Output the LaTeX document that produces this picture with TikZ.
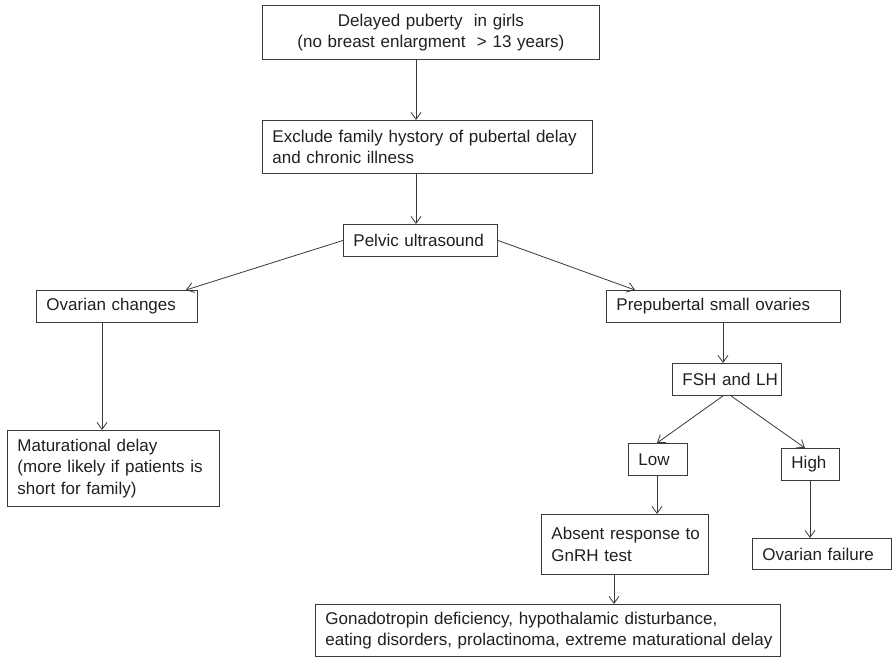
\documentclass[tikz,border=0pt]{standalone}
\usepackage{fontspec}
\setmainfont{Liberation Sans}
\usetikzlibrary{arrows.meta,calc}
\definecolor{ink}{HTML}{231F20}
\definecolor{edge}{HTML}{3A3A3A}
\begin{document}
\begin{tikzpicture}[x=1pt,y=-1pt,
  box/.style={draw=edge, line width=0.9pt, inner xsep=10pt, inner ysep=0pt,
    align=left, anchor=north west, text=ink,
    font=\fontsize{17}{21.5}\selectfont},
  arr/.style={draw=edge, line width=0.8pt, -{Straight Barb[length=7pt,width=10pt]}},
  ln/.style={draw=edge, line width=0.8pt}]
\useasboundingbox (0,0) rectangle (893,659);
\fill[white] (0,0) rectangle (893,659);

\node[box, align=center, text width=317pt, minimum height=54pt] (top) at (262,5)
  {Delayed puberty\ \ in girls\\(no breast enlargment\ \ \textgreater\ 13 years)};
\node[box, text width=310pt, minimum height=53pt] (excl) at (262,120)
  {\mbox{Exclude family hystory of pubertal delay}\\and chronic illness};
\node[box, text width=134pt, minimum height=32pt] (pel) at (343,224)
  {\mbox{Pelvic ultrasound}};
\node[box, text width=141pt, minimum height=32pt] (ovc) at (36,290)
  {\mbox{Ovarian changes}};
\node[box, text width=192pt, minimum height=76pt] (mat) at (7,430)
  {Maturational delay\\\mbox{(more likely if patients is}\\short for family)};
\node[box, text width=214pt, minimum height=32pt] (pre) at (606,290)
  {\mbox{Prepubertal small ovaries}};
\node[box, text width=89pt, minimum height=32pt] (fsh) at (672,363)
  {\mbox{FSH and LH}};
\node[box, text width=39pt, minimum height=32pt] (low) at (628,443)
  {\mbox{Low}};
\node[box, text width=38pt, minimum height=32pt] (high) at (781,448)
  {\mbox{High}};
\node[box, text width=147pt, minimum height=60pt] (abs) at (541,514)
  {\mbox{Absent response to}\\GnRH test};
\node[box, text width=119pt, minimum height=31pt] (ovf) at (752,538)
  {\mbox{Ovarian failure}};
\node[box, text width=445pt, minimum height=52pt] (gon) at (315,604)
  {\mbox{Gonadotropin deficiency, hypothalamic disturbance,}\\\mbox{eating disorders, prolactinoma, extreme maturational delay}};

\coordinate (xa) at (416,0);
\coordinate (xb) at (102,0);
\coordinate (xc) at (723,0);
\coordinate (xd) at (657,0);
\coordinate (xe) at (810,0);
\coordinate (xf) at (614,0);

\draw[arr] (top.south -| xa) -- (excl.north -| xa);
\draw[arr] (excl.south -| xa) -- (pel.north -| xa);
\draw[arr] (pel.west) -- ($(ovc.north east)+(-12,0)$);
\draw[arr] (pel.east) -- ($(pre.north west)+(29,0)$);
\draw[arr] (ovc.south -| xb) -- (mat.north -| xb);
\draw[arr] (pre.south -| xc) -- (fsh.north -| xc);
\draw[arr] ($(fsh.south west)+(51,0)$) -- (low.north -| xd);
\draw[arr] ($(fsh.south west)+(59,0)$) -- ($(high.north west)+(24,0)$);
\draw[arr] (low.south -| xd) -- (abs.north -| xd);
\draw[arr] (high.south -| xe) -- (ovf.north -| xe);
\draw[arr] (abs.south -| xf) -- (gon.north -| xf);
\end{tikzpicture}
\end{document}
